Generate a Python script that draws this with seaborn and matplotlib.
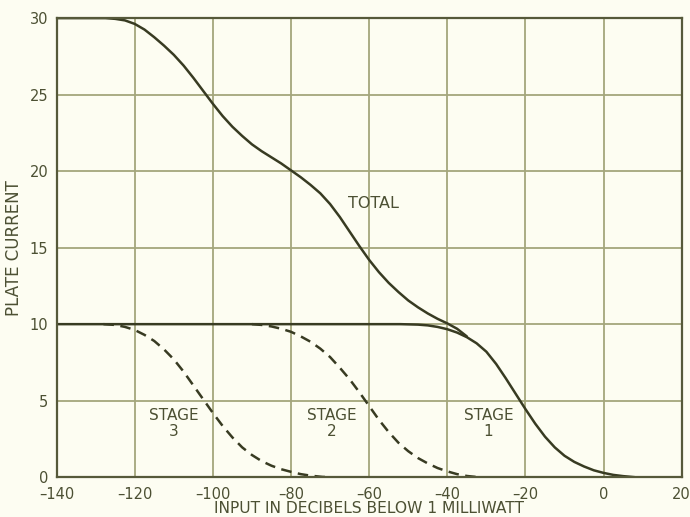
import numpy as np
import pandas as pd
import matplotlib
matplotlib.use("Agg")
import matplotlib.pyplot as plt
import seaborn as sns

# values
total_x = [-140, -127.5, -125, -122.5, -120, -117.5, -115, -112.5, -110, -107.5, -105,
           -102.5, -100, -97.5, -95, -92.5, -90, -87.5, -85, -82.5, -80, -77.5, -75,
           -72.5, -70, -67.5, -65, -62.5, -60, -57.5, -55, -52.5, -50, -47.5, -45,
           -42.5, -40, -37.5, -35]
total_y = [30, 30, 29.95, 29.85, 29.62, 29.25, 28.75, 28.2, 27.6, 26.9, 26.1,
           25.25, 24.4, 23.6, 22.9, 22.3, 21.75, 21.3, 20.9, 20.5, 20.05, 19.6, 19.1,
           18.55, 17.85, 17.0, 16.05, 15.1, 14.2, 13.4, 12.7, 12.1, 11.55, 11.1, 10.7,
           10.35, 10.05, 9.7, 9.2]

stage1_x = [-140, -52, -47.5, -45, -42.5, -40, -37.5, -35, -32.5, -30, -27.5, -25,
            -22.5, -20, -17.5, -15, -12.5, -10, -7.5, -5, -2.5, 0, 2.5, 5, 8]
stage1_y = [10, 10, 9.97, 9.92, 9.82, 9.67, 9.45, 9.15, 8.75, 8.2, 7.4, 6.45,
            5.45, 4.45, 3.5, 2.65, 1.95, 1.4, 1.0, 0.7, 0.45, 0.28, 0.15, 0.07, 0.0]

stage2_x = [-90, -87.5, -85, -82.5, -80, -77.5, -75, -72.5, -70, -67.5, -65, -62.5,
            -60, -57.5, -55, -52.5, -50, -47.5, -45, -42.5, -40, -37.5, -35, -32]
stage2_y = [10, 9.95, 9.85, 9.7, 9.5, 9.2, 8.85, 8.4, 7.85, 7.15, 6.4, 5.55,
            4.65, 3.75, 2.95, 2.25, 1.7, 1.25, 0.9, 0.6, 0.38, 0.2, 0.08, 0.0]

stage3_x = [-128, -125, -122.5, -120, -117.5, -115, -112.5, -110, -107.5, -105,
            -102.5, -100, -97.5, -95, -92.5, -90, -87.5, -85, -82.5, -80, -77.5,
            -75, -72, -70]
stage3_y = [10, 9.95, 9.82, 9.62, 9.3, 8.9, 8.35, 7.7, 6.9, 6.0,
            5.1, 4.2, 3.35, 2.6, 1.95, 1.45, 1.05, 0.75, 0.52, 0.35, 0.2,
            0.1, 0.02, 0.0]

x_ticks = [-140, -120, -100, -80, -60, -40, -20, 0, 20]
y_ticks = [0, 5, 10, 15, 20, 25, 30]

paper = "#fdfdf2"
ink = "#383b22"
grid_col = "#a4a67c"
text_col = "#4c5033"

sns.set_style("whitegrid", {"axes.facecolor": paper, "figure.facecolor": paper,
                            "grid.color": grid_col, "axes.edgecolor": "#56593a"})
plt.rcParams["font.family"] = ["DejaVu Sans"]

fig = plt.figure(figsize=(6.9, 5.17), dpi=100)
ax = fig.add_axes([0.082, 0.077, 0.906, 0.888])

line_kw = dict(ax=ax, color=ink, linewidth=1.8, solid_joinstyle="round",
               solid_capstyle="round")
sns.lineplot(x=total_x, y=total_y, **line_kw)
sns.lineplot(x=stage1_x, y=stage1_y, **line_kw)
sns.lineplot(x=stage2_x, y=stage2_y, linestyle=(0, (4.2, 2.6)), **line_kw)
sns.lineplot(x=stage3_x, y=stage3_y, linestyle=(0, (4.2, 2.6)), **line_kw)

ax.set_xlim(-140, 20)
ax.set_ylim(0, 30)
ax.set_xticks(x_ticks)
ax.set_yticks(y_ticks)
ax.set_xticklabels([str(t).replace("-", "\u2013") for t in x_ticks])
ax.tick_params(length=0, labelsize=10.5, labelcolor=text_col)
ax.tick_params(axis="x", pad=7)
ax.tick_params(axis="y", pad=6)
ax.grid(True, linewidth=1.3, color=grid_col)
for sp in ax.spines.values():
    sp.set_linewidth(1.6)

ax.set_xlabel("INPUT IN DECIBELS BELOW 1 MILLIWATT", fontsize=11.2,
              color=text_col, labelpad=-1)
ax.set_ylabel("PLATE CURRENT", fontsize=12, color=text_col, labelpad=5)

lab = dict(fontsize=11, color=text_col, ha="center", va="center",
           linespacing=1.05)
ax.text(-59, 17.9, "TOTAL", fontsize=11.5, color=text_col, ha="center", va="center")
ax.text(-110, 3.5, "STAGE\n3", **lab)
ax.text(-69.5, 3.5, "STAGE\n2", **lab)
ax.text(-29.5, 3.5, "STAGE\n1", **lab)

fig.savefig("out.png", dpi=100, facecolor=paper)
